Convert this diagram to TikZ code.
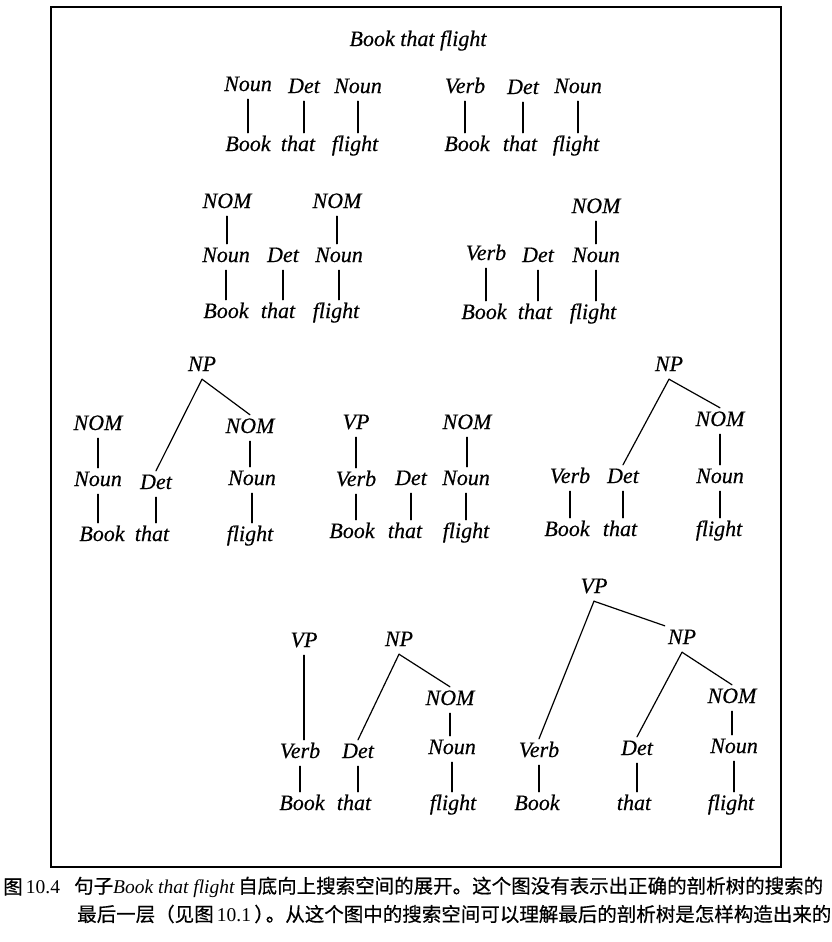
\documentclass[tikz,border=0pt]{standalone}
\usepackage{fontspec}
\setmainfont{Liberation Serif}
\newfontfamily\lblfont{Liberation Serif}[FakeBold=0.35]
\newfontfamily\cjk{Noto Sans CJK SC}[FakeBold=0.5]
\newcommand\vln[2]{\draw[br] (#1.south) -- (#1.south |- #2.north);}
\begin{document}
\begin{tikzpicture}[x=1pt,y=-1pt,
  lab/.style={font=\fontsize{22}{26}\lblfont\itshape, inner sep=3pt, text height=15pt, text depth=5pt},
  br/.style={line width=1.2pt, line cap=round},
  captxt/.style={font=\fontsize{19.5}{24}\selectfont, inner sep=0pt, anchor=west}]
\useasboundingbox (0,0) rectangle (831,942);
\draw[line width=2pt] (51,7) rectangle (781,867);

\node[lab] (title) at (418,41) {Book that flight};

% Row 1 left
\node[lab] (a1) at (248,86) {Noun};
\node[lab] (a2) at (304,88) {Det};
\node[lab] (a3) at (358,88) {Noun};
\node[lab] (a4) at (248,146) {Book};
\node[lab] (a5) at (298,146) {that};
\node[lab] (a6) at (355,146) {flight};
\vln{a1}{a4} \vln{a2}{a5} \vln{a3}{a6}

% Row 1 right
\node[lab] (b1) at (465,88) {Verb};
\node[lab] (b2) at (523,89) {Det};
\node[lab] (b3) at (578,88) {Noun};
\node[lab] (b4) at (467,146) {Book};
\node[lab] (b5) at (520,146) {that};
\node[lab] (b6) at (576,146) {flight};
\vln{b1}{b4} \vln{b2}{b5} \vln{b3}{b6}

% Row 2 left
\node[lab] (c1) at (227,203) {NOM};
\node[lab] (c2) at (337,203) {NOM};
\node[lab] (c3) at (226,257) {Noun};
\node[lab] (c4) at (283,257) {Det};
\node[lab] (c5) at (339,257) {Noun};
\node[lab] (c6) at (226,313) {Book};
\node[lab] (c7) at (278,313) {that};
\node[lab] (c8) at (336,313) {flight};
\vln{c1}{c3} \vln{c2}{c5} \vln{c3}{c6} \vln{c4}{c7} \vln{c5}{c8}

% Row 2 right
\node[lab] (d1) at (596,208) {NOM};
\node[lab] (d2) at (486,255) {Verb};
\node[lab] (d3) at (538,257) {Det};
\node[lab] (d4) at (596,257) {Noun};
\node[lab] (d5) at (484,314) {Book};
\node[lab] (d6) at (535,314) {that};
\node[lab] (d7) at (593,314) {flight};
\vln{d1}{d4} \vln{d2}{d5} \vln{d3}{d6} \vln{d4}{d7}

% Row 3 left
\node[lab] (e0) at (202,366) {NP};
\node[lab] (e1) at (98,425) {NOM};
\node[lab] (e2) at (250,428) {NOM};
\node[lab] (e3) at (98,481) {Noun};
\node[lab] (e4) at (156,484) {Det};
\node[lab] (e5) at (252,480) {Noun};
\node[lab] (e6) at (102,536) {Book};
\node[lab] (e7) at (152,536) {that};
\node[lab] (e8) at (250,536) {flight};
\draw[br] (e0.south) -- (e4.north);
\draw[br] (e0.south) -- (e2.north);
\vln{e1}{e3} \vln{e2}{e5} \vln{e3}{e6} \vln{e4}{e7} \vln{e5}{e8}

% Row 3 middle
\node[lab] (f1) at (356,424) {VP};
\node[lab] (f2) at (467,424) {NOM};
\node[lab] (f3) at (356,481) {Verb};
\node[lab] (f4) at (411,480) {Det};
\node[lab] (f5) at (466,480) {Noun};
\node[lab] (f6) at (352,533) {Book};
\node[lab] (f7) at (405,533) {that};
\node[lab] (f8) at (466,533) {flight};
\vln{f1}{f3} \vln{f2}{f5} \vln{f3}{f6} \vln{f4}{f7} \vln{f5}{f8}

% Row 3 right
\node[lab] (g0) at (669,366) {NP};
\node[lab] (g1) at (720,421) {NOM};
\node[lab] (g2) at (570,478) {Verb};
\node[lab] (g3) at (623,478) {Det};
\node[lab] (g4) at (720,478) {Noun};
\node[lab] (g5) at (567,531) {Book};
\node[lab] (g6) at (620,531) {that};
\node[lab] (g7) at (719,531) {flight};
\draw[br] (g0.south) -- (g3.north);
\draw[br] (g0.south) -- (g1.north);
\vln{g1}{g4} \vln{g2}{g5} \vln{g3}{g6} \vln{g4}{g7}

% Row 4 left
\node[lab] (h1) at (304,642) {VP};
\node[lab] (h2) at (399,641) {NP};
\node[lab] (h3) at (450,700) {NOM};
\node[lab] (h4) at (300,753) {Verb};
\node[lab] (h5) at (358,753) {Det};
\node[lab] (h6) at (452,749) {Noun};
\node[lab] (h7) at (302,805) {Book};
\node[lab] (h8) at (354,805) {that};
\node[lab] (h9) at (453,805) {flight};
\vln{h1}{h4}
\draw[br] (h2.south) -- (h5.north);
\draw[br] (h2.south) -- (h3.north);
\vln{h3}{h6} \vln{h4}{h7} \vln{h5}{h8} \vln{h6}{h9}

% Row 4 right
\node[lab] (k1) at (594,588) {VP};
\node[lab] (k2) at (682,639) {NP};
\node[lab] (k3) at (732,698) {NOM};
\node[lab] (k4) at (539,752) {Verb};
\node[lab] (k5) at (637,750) {Det};
\node[lab] (k6) at (734,748) {Noun};
\node[lab] (k7) at (537,805) {Book};
\node[lab] (k8) at (634,805) {that};
\node[lab] (k9) at (731,805) {flight};
\draw[br] (k1.south) -- (k4.north);
\draw[br] (k1.south) -- (k2.north west);
\draw[br] (k2.south) -- (k5.north);
\draw[br] (k2.south) -- (k3.north);
\vln{k3}{k6} \vln{k4}{k7} \vln{k5}{k8} \vln{k6}{k9}

% Caption
\node[captxt] (cap0) at (3,887) {{\cjk 图}\,10.4};
\node[captxt] (cap1) at (74,887) {{\cjk 句子}\textit{Book that flight}\,{\cjk 自底向上搜索空间的展开。这个图没有表示出正确的剖析树的搜索的}};
\node[captxt] (cap2) at (77,914) {{\cjk 最后一层（见图}\,10.1\,{\cjk ）}\kern-8pt{\cjk 。从这个图中的搜索空间可以理解最后的剖析树是怎样构造出来的}};
\end{tikzpicture}
\end{document}
